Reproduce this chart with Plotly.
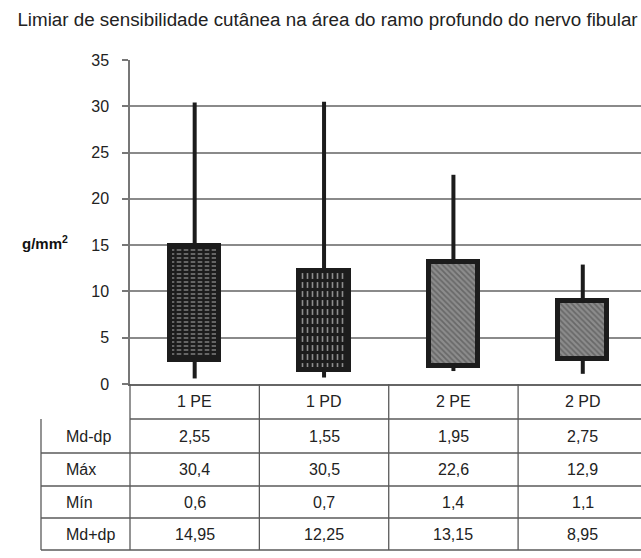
import plotly.graph_objects as go

# Sensitivity threshold data per group (g/mm²)
categories = ["1 PE", "1 PD", "2 PE", "2 PD"]
md_minus_dp = [2.55, 1.55, 1.95, 2.75]
maximum = [30.4, 30.5, 22.6, 12.9]
minimum = [0.6, 0.7, 1.4, 1.1]
md_plus_dp = [14.95, 12.25, 13.15, 8.95]

row_labels = ["Md-dp", "Máx", "Mín", "Md+dp"]
table_rows = [md_minus_dp, maximum, minimum, md_plus_dp]

y_ticks = [0, 5, 10, 15, 20, 25, 30, 35]

FONT = "Liberation Sans, Arial, sans-serif"
INK = "#1c1c1c"
GRID = "#8a8a8a"
TABLE_LINE = "#5a5a5a"

# Geometry (figure pixels)
W, H = 641, 558
L, R, T, B = 130, 0, 60, 174
plot_h = H - T - B
plot_w = W - L - R


def py(pixel_y):
    """Convert a pixel row to paper y."""
    return (H - B - pixel_y) / plot_h


def px(pixel_x):
    """Convert a pixel column to paper x."""
    return (pixel_x - L) / plot_w


def fmt(v):
    s = f"{v:.2f}".rstrip("0").rstrip(".")
    return s.replace(".", ",")


heights = [hi - lo for hi, lo in zip(md_plus_dp, md_minus_dp)]
bar_w = 0.38

fig = go.Figure()

# Base fill of the boxes
fig.add_trace(go.Bar(
    x=categories, y=heights, base=md_minus_dp, width=bar_w,
    marker=dict(
        color=[INK, INK, "#8c8c8c", "#8c8c8c"],
        line=dict(width=0),
        pattern=dict(
            shape=["-", "|", "\\", "\\"],
            fgcolor=["#f2f2f2", "#f2f2f2", "#262626", "#262626"],
            size=[4, 5, 4, 4],
            solidity=[0.32, 0.32, 0.45, 0.45],
            fillmode="overlay",
        ),
    ),
    hoverinfo="skip", showlegend=False,
))

# Breaker pattern turning stripes into dashes, plus the box outline
fig.add_trace(go.Bar(
    x=categories, y=heights, base=md_minus_dp, width=bar_w,
    marker=dict(
        color="rgba(0,0,0,0)",
        line=dict(width=5, color=INK),
        pattern=dict(
            shape=["|", "-", "", ""],
            fgcolor=INK,
            bgcolor="rgba(0,0,0,0)",
            size=[7, 9, 8, 8],
            solidity=[0.35, 0.35, 0.3, 0.3],
            fillmode="replace",
        ),
    ),
    hoverinfo="skip", showlegend=False,
))

# Whiskers: from minimum up to the box, and from the box to the maximum
wx, wy = [], []
for c, lo_v, lo_box, hi_box, hi_v in zip(categories, minimum, md_minus_dp, md_plus_dp, maximum):
    wx += [c, c, None, c, c, None]
    wy += [lo_v, lo_box, None, hi_box, hi_v, None]
fig.add_trace(go.Scatter(
    x=wx, y=wy, mode="lines",
    line=dict(color=INK, width=4),
    hoverinfo="skip", showlegend=False,
))

shapes = []
annotations = []

# Table geometry
header_top = H - B
header_bottom = 419
row_bottoms = [453, 486, 518, 550]
table_left = 41

# Horizontal lines
shapes.append(dict(type="line", xref="paper", yref="paper",
                   x0=px(L), x1=1, y0=py(header_bottom), y1=py(header_bottom),
                   line=dict(color=TABLE_LINE, width=1.3)))
for yb in row_bottoms:
    shapes.append(dict(type="line", xref="paper", yref="paper",
                       x0=px(table_left), x1=1, y0=py(yb), y1=py(yb),
                       line=dict(color=TABLE_LINE, width=1.3)))
# Left border of the row-label column
shapes.append(dict(type="line", xref="paper", yref="paper",
                   x0=px(table_left), x1=px(table_left),
                   y0=py(header_bottom), y1=py(row_bottoms[-1]),
                   line=dict(color=TABLE_LINE, width=1.3)))
# Vertical line under the y axis
shapes.append(dict(type="line", xref="paper", yref="paper",
                   x0=0, x1=0, y0=py(header_top), y1=py(row_bottoms[-1]),
                   line=dict(color=TABLE_LINE, width=1.3)))
# Column separators between categories
for i in range(1, len(categories)):
    shapes.append(dict(type="line", xref="x", yref="paper",
                       x0=i - 0.5, x1=i - 0.5, y0=py(header_top), y1=py(row_bottoms[-1]),
                       line=dict(color=TABLE_LINE, width=1.3)))

# Header labels
for c in categories:
    annotations.append(dict(xref="x", yref="paper", x=c,
                            y=py((header_top + header_bottom) / 2),
                            text=c, showarrow=False, xanchor="center", yanchor="middle",
                            font=dict(family=FONT, size=16, color="#222")))

# Row labels and values
tops = [header_bottom] + row_bottoms[:-1]
for label, vals, yt, yb in zip(row_labels, table_rows, tops, row_bottoms):
    ym = py((yt + yb) / 2)
    annotations.append(dict(xref="paper", yref="paper", x=px(64), y=ym,
                            text=label, showarrow=False, xanchor="left", yanchor="middle",
                            font=dict(family=FONT, size=16, color="#222")))
    for c, v in zip(categories, vals):
        annotations.append(dict(xref="x", yref="paper", x=c, y=ym,
                                text=fmt(v), showarrow=False,
                                xanchor="center", yanchor="middle",
                                font=dict(family=FONT, size=16, color="#222")))

# Y-axis unit label
annotations.append(dict(xref="paper", yref="paper", x=px(45), y=py(242),
                        text="<b>g/mm<sup>2</sup></b>", showarrow=False,
                        xanchor="center", yanchor="middle",
                        font=dict(family=FONT, size=15, color="#111")))

fig.update_layout(
    width=W, height=H,
    margin=dict(l=L, r=R, t=T, b=B, pad=0),
    paper_bgcolor="white", plot_bgcolor="white",
    barmode="overlay", bargap=0,
    title=dict(text="Limiar de sensibilidade cutânea na área do ramo profundo do nervo fibular",
               x=327.5 / W, y=1 - 19 / H, xref="container", yref="container",
               xanchor="center", yanchor="middle",
               font=dict(family=FONT, size=18.8, color="#222")),
    shapes=shapes, annotations=annotations,
    font=dict(family=FONT),
)

fig.update_xaxes(
    type="category", categoryorder="array", categoryarray=categories,
    range=[-0.5, 3.45], showticklabels=False, ticks="",
    showgrid=False, zeroline=False,
    showline=True, linecolor="#666", linewidth=1.5,
)
fig.update_yaxes(
    range=[0, 35], tickvals=y_ticks,
    showgrid=True, gridcolor=GRID, gridwidth=1.5,
    zeroline=False,
    showline=True, linecolor="#777", linewidth=1.5,
    ticks="outside", ticklen=6, tickcolor="#777", tickwidth=1.5,
    ticklabelstandoff=10,
    tickfont=dict(family=FONT, size=16, color="#222"),
)

fig.write_html("out.html")
